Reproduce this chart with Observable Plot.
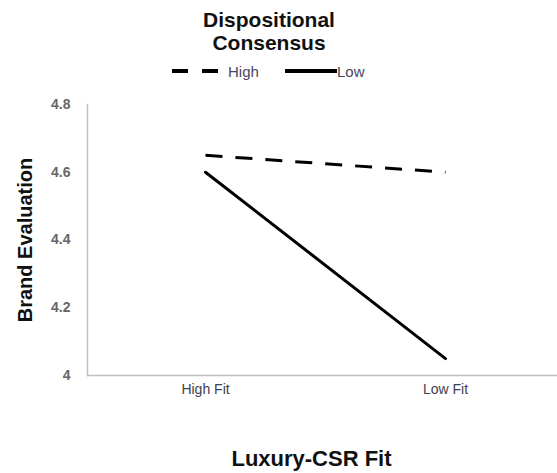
<!DOCTYPE html>
<html><head><meta charset="utf-8">
<script src="https://cdn.jsdelivr.net/npm/d3@7"></script>
<script src="https://cdn.jsdelivr.net/npm/@observablehq/plot@0.6"></script>
<style>
body{margin:0;background:#fff;font-family:"Liberation Sans",Arial,sans-serif;}
#wrap{width:557px;height:473px;position:relative;overflow:hidden;}
#header{position:relative;width:557px;height:90px;}
.ttl{position:absolute;left:269px;transform:translateX(-50%);font-weight:bold;font-size:21px;line-height:21px;text-align:center;color:#111;white-space:nowrap;}
.leg{position:absolute;top:62px;height:18px;display:flex;align-items:center;font-size:15px;color:#4a4560;}
#chart svg{display:block;}
</style></head>
<body><div id="wrap">
<div id="header">
  <div class="ttl" style="top:9px;">Dispositional</div>
  <div class="ttl" style="top:32px;">Consensus</div>
  <div class="leg" style="left:172px;"><svg width="50" height="18"><line x1="0" y1="9" x2="46" y2="9" stroke="#000" stroke-width="4" stroke-dasharray="16,14"/></svg><span style="margin-left:6px">High</span></div>
  <div class="leg" style="left:285px;"><svg width="52" height="18"><line x1="0" y1="9" x2="52" y2="9" stroke="#000" stroke-width="4"/></svg><span>Low</span></div>
</div>
<div id="chart"></div>
</div>
<script>
const categories = ["High Fit", "Low Fit"];
const seriesNames = ["High", "Low"];
const highValues = [4.65, 4.60];
const lowValues = [4.60, 4.05];
const yTicks = [4, 4.2, 4.4, 4.6, 4.8];

const highData = categories.map((c, i) => ({fit: c, series: seriesNames[0], value: highValues[i]}));
const lowData = categories.map((c, i) => ({fit: c, series: seriesNames[1], value: lowValues[i]}));

const chart = Plot.plot({
  width: 557,
  height: 383,
  marginLeft: 87,
  marginRight: 0,
  marginTop: 14,
  marginBottom: 98,
  style: {fontFamily: '"Liberation Sans", Arial, sans-serif', background: "#fff"},
  x: {type: "point", domain: categories, range: [205, 445], padding: 0},
  y: {domain: [4, 4.8]},
  marks: [
    Plot.frame({anchor: "left", stroke: "#bfbfbf", strokeWidth: 1.5}),
    Plot.frame({anchor: "bottom", stroke: "#bfbfbf", strokeWidth: 1.5}),
    Plot.axisY({ticks: yTicks, tickSize: 0, tickPadding: 17, fontSize: 14, fontWeight: "bold", fill: "#666", label: null,
      tickFormat: d => String(+d.toFixed(1))}),
    Plot.axisX({tickSize: 0, tickPadding: 9, fontSize: 14, fill: "#404050", label: null}),
    Plot.line(highData, {x: "fit", y: "value", stroke: "#000", strokeWidth: 3, strokeDasharray: "17,13", strokeLinecap: "butt"}),
    Plot.line(lowData, {x: "fit", y: "value", stroke: "#000", strokeWidth: 3}),
    Plot.text(["Brand Evaluation"], {frameAnchor: "left", rotate: -90, dx: -62, fontSize: 20, fontWeight: "bold", fill: "#111", textAnchor: "middle"}),
    Plot.text(["Luxury-CSR Fit"], {frameAnchor: "bottom", dy: 90, dx: -11, lineAnchor: "bottom", fontSize: 22, fontWeight: "bold", fill: "#111", textAnchor: "middle"})
  ]
});
document.getElementById("chart").appendChild(chart);
</script>
</body></html>
